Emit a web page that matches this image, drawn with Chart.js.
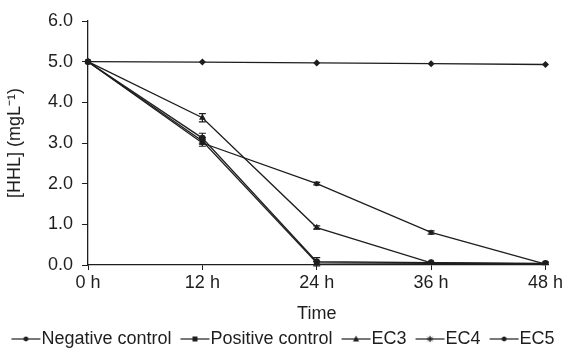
<!DOCTYPE html>
<html>
<head>
<meta charset="utf-8">
<script src="https://cdn.jsdelivr.net/npm/chart.js@4"></script>
<style>
  html,body{margin:0;padding:0;background:#fff;}
  #wrap{width:565px;height:351px;position:relative;}
</style>
</head>
<body>
<div id="wrap"><canvas id="chart"></canvas></div>
<script>
/* HHL degradation over time, scanned-figure look */
const hours = ['0 h','12 h','24 h','36 h','48 h'];
const negativeCtrl = [5.0, 4.99, 4.97, 4.95, 4.93];
const positiveCtrl = [5.0, 3.05, 0.05, 0.04, 0.03];
const ec3 = [5.0, 3.62, 0.92, 0.05, 0.03];
const ec4 = [5.0, 3.0, 2.0, 0.8, 0.02];
const ec5 = [5.0, 3.12, 0.08, 0.06, 0.04];
const negErr = [0, 0, 0, 0, 0];
const posErr = [0, 0.08, 0.04, 0, 0];
const ec3Err = [0, 0.1, 0.04, 0, 0];
const ec4Err = [0, 0.08, 0.03, 0.04, 0];
const ec5Err = [0, 0.12, 0.1, 0, 0.03];
const yTicks = [0, 1, 2, 3, 4, 5, 6];

const ink = '#1e1e1e';
const font = "'Liberation Sans', Arial, sans-serif";

// legend icon: short line with the marker in the middle
function legendIcon(style){
  const c = document.createElement('canvas');
  c.width = 50; c.height = 12;
  const g = c.getContext('2d');
  g.strokeStyle = ink; g.fillStyle = ink; g.lineWidth = 1.2;
  g.beginPath(); g.moveTo(15, 6); g.lineTo(44, 6); g.stroke();
  const cx = 29.5, cy = 6;
  g.beginPath();
  if(style === 'rect'){ g.fillRect(cx-2.5, cy-2.5, 5, 5); }
  else if(style === 'triangle'){ g.moveTo(cx, cy-3.5); g.lineTo(cx+3, cy+2.5); g.lineTo(cx-3, cy+2.5); g.closePath(); g.fill(); }
  else if(style === 'star'){
    g.lineWidth = 1;
    for(let k=0;k<4;k++){ const a = k*Math.PI/4; g.moveTo(cx-3.2*Math.cos(a), cy-3.2*Math.sin(a)); g.lineTo(cx+3.2*Math.cos(a), cy+3.2*Math.sin(a)); }
    g.stroke();
  }
  else { g.arc(cx, cy, 2.4, 0, Math.PI*2); g.fill(); }
  return c;
}

function series(label, data, err, style){
  return {
    label, data, err,
    borderColor: ink, backgroundColor: ink,
    pointBackgroundColor: ink, pointBorderColor: ink,
    pointStyle: style, pointRadius: 2.6, borderWidth: 1.3,
    tension: 0, icon: legendIcon(style)
  };
}

const errorBars = {
  id: 'errorBars',
  afterDatasetsDraw(chart){
    const ctx = chart.ctx, y = chart.scales.y;
    ctx.save();
    ctx.strokeStyle = ink; ctx.lineWidth = 1.2;
    chart.data.datasets.forEach((ds, i) => {
      const meta = chart.getDatasetMeta(i);
      meta.data.forEach((pt, j) => {
        const e = ds.err[j];
        if(!e) return;
        const top = y.getPixelForValue(ds.data[j] + e);
        const bot = y.getPixelForValue(ds.data[j] - e);
        ctx.beginPath();
        ctx.moveTo(pt.x, top); ctx.lineTo(pt.x, bot);
        ctx.moveTo(pt.x-3.5, top); ctx.lineTo(pt.x+3.5, top);
        ctx.moveTo(pt.x-3.5, bot); ctx.lineTo(pt.x+3.5, bot);
        ctx.stroke();
      });
    });
    ctx.restore();
  }
};

document.addEventListener('DOMContentLoaded', () => {
  const ctx = document.getElementById('chart').getContext('2d');
  new Chart(ctx, {
    type: 'line',
    data: {
      labels: hours,
      datasets: [
        series('Negative control', negativeCtrl, negErr, 'rectRot'),
        series('Positive control', positiveCtrl, posErr, 'rect'),
        series('EC3', ec3, ec3Err, 'triangle'),
        series('EC4', ec4, ec4Err, 'star'),
        series('EC5', ec5, ec5Err, 'circle')
      ]
    },
    options: {
      responsive: true,
      maintainAspectRatio: false,
      animation: false,
      layout: {padding: {top: 21, right: 0, left: 0, bottom: -7}},
      plugins: {
        tooltip: {enabled: false},
        legend: {
          position: 'bottom',
          labels: {
            color: ink,
            font: {family: font, size: 18},
            usePointStyle: true,
            pointStyleWidth: 22,
            padding: 8,
            generateLabels(chart){
              return chart.data.datasets.map((ds, i) => ({
                text: ds.label, pointStyle: ds.icon, datasetIndex: i,
                fillStyle: ink, strokeStyle: ink, fontColor: ink, lineWidth: 0
              }));
            }
          }
        }
      },
      scales: {
        x: {
          offset: false,
          grid: {drawOnChartArea: false, drawTicks: true, tickLength: 5, color: ink},
          border: {color: ink, width: 1.3},
          ticks: {color: ink, font: {family: font, size: 18}, padding: 2, maxRotation: 0},
          title: {display: true, text: 'Time', color: ink, font: {family: font, size: 18}, padding: {top: 0, bottom: -3}},
          afterFit(scale){ scale.height = 57; }
        },
        y: {
          min: 0, max: 6,
          afterBuildTicks(scale){ scale.ticks = yTicks.map(v => ({value: v})); },
          grid: {drawOnChartArea: false, drawTicks: true, tickLength: 6, color: ink},
          border: {color: ink, width: 1.3},
          ticks: {color: ink, font: {family: font, size: 18}, padding: 9, callback: v => v.toFixed(1)},
          title: {display: true, text: '[HHL] (mgL⁻¹)', color: ink, font: {family: font, size: 18}, padding: {top: 4, bottom: 0}},
          afterFit(scale){ scale.width = 88; }
        }
      }
    },
    plugins: [errorBars]
  });
});
</script>
</body>
</html>
